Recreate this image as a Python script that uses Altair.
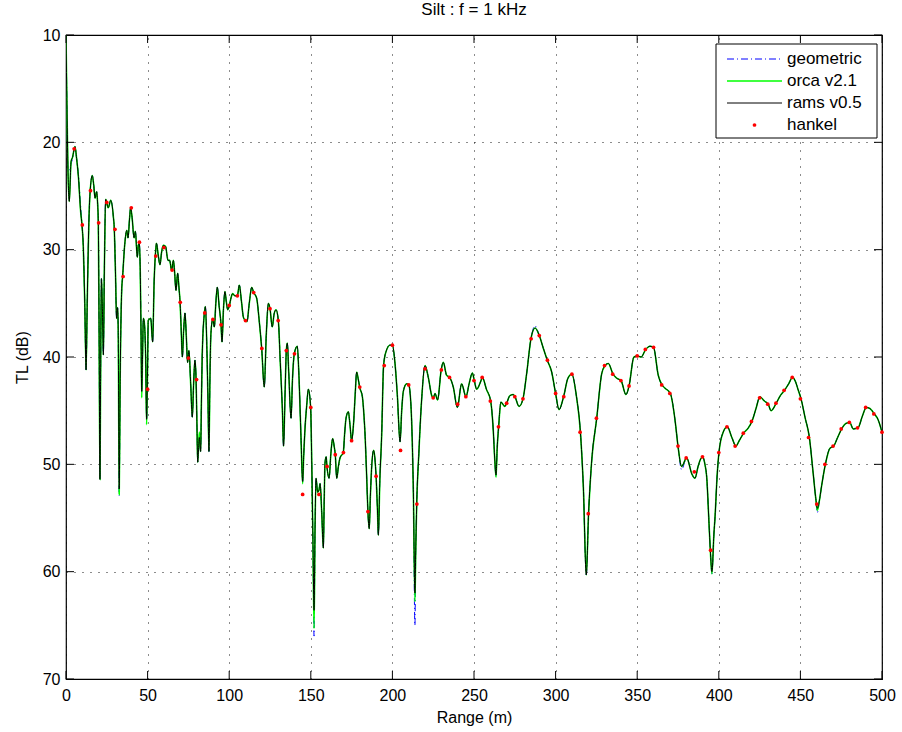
import altair as alt
import pandas as pd

# ---- data ----
rams_points = [
    (0.0,10.0),(0.3,13.5),(0.7,18.0),(1.2,22.5),(2.0,25.5),(3.1,21.8),(4.0,21.4),(5.5,20.4),(6.5,21.5),(7.6,23.2),
    (9.0,26.5),(9.8,27.7),(10.6,29.7),(11.5,35.0),(12.3,41.2),(13.0,35.0),(14.0,27.5),(14.7,24.8),(16.1,23.1),(17.0,24.0),
    (17.8,25.2),(18.8,24.6),(19.4,25.8),(19.8,27.5),(20.3,38.0),(20.8,51.4),(21.2,42.0),(21.7,32.7),(22.3,35.5),(22.9,39.8),
    (23.5,32.0),(24.3,25.3),(25.9,26.1),(27.4,25.4),(29.0,26.9),(29.6,28.1),(30.3,32.0),(31.0,36.4),(31.6,35.4),(32.0,37.5),
    (32.6,52.3),(33.2,42.0),(34.1,33.9),(34.7,32.5),(36.0,29.5),(37.2,28.2),(38.0,28.9),(39.0,27.0),(39.6,26.1),(40.5,27.0),
    (41.7,28.9),(42.5,28.3),(43.7,30.7),(44.3,29.6),(44.9,29.4),(45.5,32.0),(46.0,38.0),(46.4,43.2),(46.9,40.0),(47.4,36.4),
    (48.0,36.8),(48.8,40.0),(49.4,45.8),(49.9,42.0),(50.4,36.6),(51.9,36.4),(53.1,38.6),(54.0,33.0),(55.0,30.0),(55.4,29.4),
    (56.5,30.5),(57.6,31.4),(58.6,30.2),(59.6,29.6),(61.0,29.7),(62.5,31.0),(63.5,31.0),(64.7,31.9),(65.8,31.0),(66.5,32.0),
    (67.4,33.8),(68.4,32.2),(69.2,33.5),(69.9,34.9),(70.6,37.5),(71.3,40.0),(72.1,37.5),(72.9,35.9),(73.7,38.0),(74.5,40.5),
    (75.3,39.4),(76.4,42.5),(77.4,45.6),(78.2,42.5),(79.0,40.3),(79.7,42.1),(80.2,46.0),(80.7,49.8),(81.7,47.5),(82.5,48.8),
    (83.0,44.0),(83.5,39.7),(84.8,35.9),(85.4,35.3),(86.4,39.7),(87.0,44.0),(87.6,48.8),(88.2,42.0),(88.8,37.8),(89.9,36.5),
    (90.9,37.2),(91.8,35.0),(92.7,33.5),(93.8,35.2),(95.0,37.0),(95.6,38.6),(96.5,35.5),(97.4,33.9),(98.2,34.8),(99.1,35.6),
    (100.1,35.2),(101.1,34.5),(102.1,34.1),(103.5,34.3),(105.0,34.3),(106.2,33.3),(107.5,34.8),(108.7,36.3),(109.9,36.6),(110.9,36.7),
    (112.3,35.0),(113.8,33.5),(115.0,34.0),(116.8,34.5),(118.5,36.8),(119.9,39.2),(121.5,42.8),(122.7,38.0),(124.0,35.0),(125.0,35.5),
    (126.4,37.2),(127.5,36.0),(128.7,35.6),(130.1,36.6),(131.3,40.5),(132.6,45.0),(133.3,48.3),(134.3,43.0),(135.0,39.4),(135.6,38.7),
    (136.5,41.5),(137.9,45.7),(138.8,42.0),(139.9,39.7),(141.7,39.0),(142.8,42.0),(144.0,47.5),(145.0,51.6),(145.7,49.0),(146.4,46.8),
    (147.5,44.5),(148.5,43.0),(149.9,44.7),(150.6,50.0),(151.3,57.0),(152.0,63.6),(152.6,56.0),(153.2,51.3),(154.2,52.6),(155.0,52.4),
    (155.7,51.8),(156.7,54.5),(157.7,57.8),(158.2,53.5),(158.7,49.9),(159.4,49.3),(159.9,50.2),(161.2,51.3),(162.3,49.0),(163.4,47.6),
    (164.3,48.3),(165.0,49.1),(165.9,51.3),(166.9,50.2),(167.9,49.4),(169.9,48.9),(170.8,47.0),(171.6,45.7),(173.0,45.1),(174.0,46.3),
    (175.0,47.8),(176.1,46.4),(177.2,43.5),(178.1,41.4),(179.0,42.0),(179.9,42.8),(181.6,43.7),(182.6,45.5),(183.3,47.4),(184.2,51.0),
    (185.0,54.4),(185.8,56.0),(186.5,53.0),(187.2,50.5),(188.5,48.7),(189.3,49.5),(190.0,51.1),(190.8,54.0),(191.4,56.6),(192.3,51.5),
    (193.4,47.4),(194.6,40.8),(196.1,39.5),(198.5,38.9),(200.0,38.9),(201.6,40.6),(203.0,43.5),(204.7,47.9),(205.7,45.0),(206.7,43.2),
    (208.7,42.5),(210.0,42.6),(211.4,44.6),(212.2,48.0),(212.8,52.1),(213.8,62.0),(214.3,58.0),(214.9,53.7),(216.2,49.0),(217.9,44.0),
    (220.0,40.8),(222.0,41.9),(224.1,43.6),(225.1,43.8),(226.1,43.4),(227.7,44.0),(229.9,41.2),(231.2,40.5),(233.2,41.7),(235.1,41.9),
    (237.3,42.8),(239.8,44.7),(242.4,42.5),(245.1,43.7),(247.0,42.5),(249.0,41.5),(250.2,42.2),(251.6,43.0),(254.3,42.2),(255.1,41.9),
    (257.6,43.0),(260.2,44.1),(261.8,46.8),(262.7,49.5),(263.5,51.0),(264.2,48.5),(265.1,46.5),(266.5,44.2),(268.9,44.6),(270.0,44.3),
    (272.0,43.6),(274.1,43.5),(275.1,43.7),(277.6,44.6),(280.0,43.9),(282.3,41.5),(284.9,38.3),(287.4,37.3),(290.0,38.0),(292.5,39.2),
    (294.9,40.3),(297.6,41.4),(300.0,43.4),(302.1,44.9),(304.9,43.7),(307.5,42.0),(309.9,41.6),(312.8,43.7),(315.2,47.0),(317.0,52.1),
    (318.8,60.3),(320.2,54.6),(322.0,49.9),(325.2,45.7),(328.2,41.6),(330.3,40.8),(332.3,40.6),(335.2,41.6),(337.7,42.0),(340.1,42.2),
    (343.1,43.5),(345.0,42.7),(348.0,40.0),(350.1,39.9),(352.4,40.0),(355.2,39.3),(357.8,39.0),(360.0,39.1),(362.9,41.7),(365.2,42.6),
    (367.0,42.9),(370.3,43.4),(373.2,45.9),(375.0,48.3),(377.2,50.2),(380.3,49.4),(383.5,50.9),(385.4,51.3),(387.3,50.2),(388.9,49.5),
    (390.1,49.3),(391.5,50.0),(392.6,51.2),(394.0,55.5),(394.8,58.0),(395.8,60.0),(397.0,56.5),(397.7,54.9),(399.0,51.0),(400.1,48.9),
    (402.7,47.0),(405.2,46.5),(408.0,47.5),(410.5,48.3),(412.5,47.8),(415.2,47.1),(418.1,46.6),(420.3,46.0),(422.8,44.8),(425.2,43.7),
    (427.9,44.1),(430.3,44.4),(432.0,45.0),(435.2,44.3),(437.7,43.6),(440.3,43.1),(442.8,42.5),(445.2,41.9),(447.0,42.3),(448.5,43.0),
    (450.4,43.9),(452.8,45.6),(455.5,47.5),(457.8,50.8),(459.3,53.0),(460.4,54.1),(461.5,53.5),(463.0,52.0),(465.3,50.0),(468.1,48.5),
    (470.4,48.3),(472.8,47.5),(475.3,46.7),(477.8,46.2),(480.2,46.1),(482.4,46.7),(485.3,46.6),(488.0,45.5),(490.4,44.7),(492.6,44.8),
    (495.3,45.3),(497.5,45.8),(500.0,47.0),
]

# where orca v2.1 / geometric visibly differ from rams v0.5
orca_diffs = {32.6: 52.8, 46.4: 43.8, 49.4: 46.3, 81.7: 47.0, 145.0: 51.8, 152.0: 65.3,
              213.8: 62.8, 263.5: 51.2, 395.8: 60.2, 460.4: 54.3}
geom_diffs = {2.0: 22.6, 3.1: 22.0, 4.0: 21.5, 7.6: 23.0, 9.0: 26.0, 32.6: 52.9, 152.0: 66.0,
              213.8: 65.0, 263.5: 51.2, 287.4: 37.1, 377.2: 50.5, 395.8: 60.2, 460.4: 54.5}

hankel_range = list(range(5, 505, 5))
hankel_tl = [
    20.6, 27.7, 24.5, 27.5, 25.6, 28.1, 32.5, 26.1, 29.3, 43.0,
    30.6, 29.8, 31.9, 34.9, 40.1, 42.1, 35.9, 36.5, 37.0, 35.2,
    34.3, 36.6, 34.0, 39.2, 35.5, 36.6, 39.4, 39.7, 52.8, 44.7,
    52.8, 50.2, 49.1, 48.9, 47.8, 42.8, 54.4, 51.1, 40.8, 38.9,
    48.7, 42.6, 53.7, 41.1, 43.8, 41.2, 41.9, 44.4, 43.7, 42.2,
    41.9, 44.1, 46.5, 44.3, 43.7, 43.9, 38.3, 38.0, 40.3, 43.4,
    43.7, 41.6, 47.0, 54.6, 45.7, 40.8, 41.6, 42.2, 42.7, 39.9,
    39.3, 39.1, 42.6, 43.4, 48.3, 49.4, 50.7, 49.3, 58.0, 48.9,
    46.5, 48.3, 47.1, 46.0, 43.8, 44.4, 44.3, 43.1, 41.9, 43.9,
    47.5, 53.7, 50.0, 48.3, 46.7, 46.1, 46.6, 44.7, 45.3, 47.0,
]

x_ticks = [0, 50, 100, 150, 200, 250, 300, 350, 400, 450, 500]
y_ticks = [10, 20, 30, 40, 50, 60, 70]
legend_names = ["geometric", "orca v2.1", "rams v0.5", "hankel"]

# ---- tables ----
rams_r = [p[0] for p in rams_points]
rams_tl = [p[1] for p in rams_points]
orca_tl = [orca_diffs.get(r, t) for r, t in rams_points]
geom_tl = [geom_diffs.get(r, t) for r, t in rams_points]

df_rams = pd.DataFrame({"r": rams_r, "tl": rams_tl})
df_orca = pd.DataFrame({"r": rams_r, "tl": orca_tl})
df_geom = pd.DataFrame({"r": rams_r, "tl": geom_tl})
df_hank = pd.DataFrame({"r": hankel_range, "tl": hankel_tl})
df_xt = pd.DataFrame({"r": x_ticks})
df_yt = pd.DataFrame({"tl": y_ticks})

W, H = 816, 644
FONT = "Liberation Sans"

xscale = alt.Scale(domain=[0, 500], nice=False, zero=False)
yscale = alt.Scale(domain=[10, 70], nice=False, zero=False, reverse=True)

xaxis = alt.Axis(values=x_ticks, title="Range (m)", grid=True, gridDash=[1, 7], gridColor="#000000",
                 gridOpacity=0.9, tickSize=0, domain=False, labelPadding=8, titlePadding=6,
                 labelFlush=False, labelOverlap=False,
                 labelFontSize=16, titleFontSize=16, labelFont=FONT, titleFont=FONT,
                 labelColor="black", titleColor="black", titleFontWeight="normal", format="d")
yaxis = alt.Axis(values=y_ticks, title="TL (dB)", grid=True, gridDash=[1, 7], gridColor="#000000",
                 gridOpacity=0.9, tickSize=0, domain=False, labelPadding=6, titlePadding=12,
                 labelFlush=False, labelOverlap=False,
                 labelFontSize=16, titleFontSize=16, labelFont=FONT, titleFont=FONT,
                 labelColor="black", titleColor="black", titleFontWeight="normal", format="d")

X = alt.X("r:Q", scale=xscale, axis=xaxis)
Y = alt.Y("tl:Q", scale=yscale, axis=yaxis)

geom = alt.Chart(df_geom).mark_line(color="#0000ff", strokeWidth=1, strokeDash=[7, 3, 1, 3],
                                    interpolate="monotone", clip=True).encode(x=X, y=Y)
orca = alt.Chart(df_orca).mark_line(color="#00ff00", strokeWidth=1.6,
                                    interpolate="monotone", clip=True).encode(x=X, y=Y)
rams = alt.Chart(df_rams).mark_line(color="#000000", strokeWidth=1,
                                    interpolate="monotone", clip=True).encode(x=X, y=Y)
hank = alt.Chart(df_hank).mark_point(filled=True, color="#ff0000", size=14, opacity=1,
                                     shape="circle").encode(x=X, y=Y)

# inward ticks on all four sides (MATLAB style)
TK = 8
tick_b = alt.Chart(df_xt).mark_rule(color="black").encode(x=X, y=alt.value(H), y2=alt.value(H - TK))
tick_t = alt.Chart(df_xt).mark_rule(color="black").encode(x=X, y=alt.value(0), y2=alt.value(TK))
tick_l = alt.Chart(df_yt).mark_rule(color="black").encode(y=Y, x=alt.value(0), x2=alt.value(TK))
tick_r = alt.Chart(df_yt).mark_rule(color="black").encode(y=Y, x=alt.value(W - TK), x2=alt.value(W))

# legend box (MATLAB style) in the top right
one = alt.Data(values=[{}])
LX0, LX1, LY0, LY1 = 650, 811, 9, 103
SX0, SX1, TX = 661, 716, 721
rows = [24, 46, 68, 90]
leg_box = alt.Chart(one).mark_rect(fill="white", stroke="black", strokeWidth=1).encode(
    x=alt.value(LX0), x2=alt.value(LX1), y=alt.value(LY0), y2=alt.value(LY1))
leg_geom = alt.Chart(one).mark_rule(color="#0000ff", strokeDash=[7, 3, 1, 3], strokeWidth=1).encode(
    x=alt.value(SX0), x2=alt.value(SX1), y=alt.value(rows[0]))
leg_orca = alt.Chart(one).mark_rule(color="#00ff00", strokeWidth=1.3).encode(
    x=alt.value(SX0), x2=alt.value(SX1), y=alt.value(rows[1]))
leg_rams = alt.Chart(one).mark_rule(color="#000000", strokeWidth=1).encode(
    x=alt.value(SX0), x2=alt.value(SX1), y=alt.value(rows[2]))
leg_hank = alt.Chart(one).mark_point(filled=True, color="#ff0000", size=14, opacity=1, shape="circle").encode(
    x=alt.value((SX0 + SX1) / 2), y=alt.value(rows[3]))
leg_texts = [
    alt.Chart(one).mark_text(text=name, align="left", baseline="middle", font=FONT, fontSize=17,
                             color="black").encode(x=alt.value(TX), y=alt.value(yy))
    for name, yy in zip(legend_names, rows)
]

chart = alt.layer(
    geom, orca, rams, hank, tick_b, tick_t, tick_l, tick_r,
    leg_box, leg_geom, leg_orca, leg_rams, leg_hank, *leg_texts
).properties(
    width=W, height=H,
    title=alt.TitleParams("Silt : f = 1 kHz", font=FONT, fontSize=17, fontWeight="normal",
                          color="black", anchor="middle", offset=8),
    padding={"left": 66, "top": 35, "right": 20, "bottom": 53},
    autosize=alt.AutoSizeParams(type="none"),
    background="white",
).configure_view(stroke="black", strokeWidth=1.2)

chart.save("out.html", embed_options={"renderer": "svg", "actions": False})
